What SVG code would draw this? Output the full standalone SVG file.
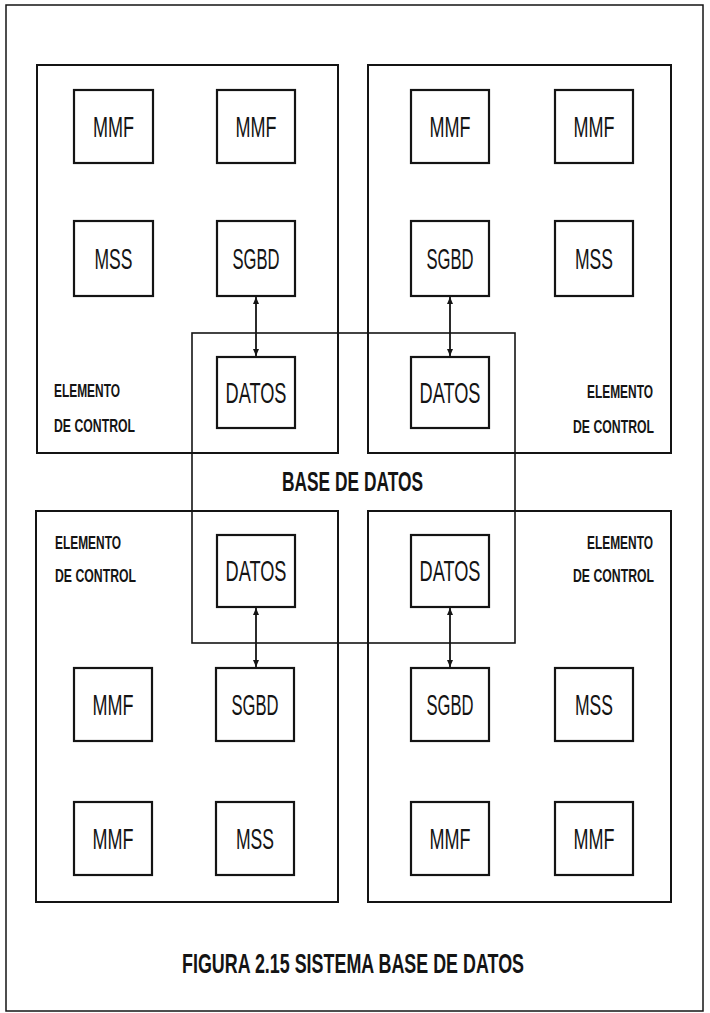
<svg xmlns="http://www.w3.org/2000/svg" width="710" height="1013" viewBox="0 0 710 1013">
<style>
.frame{fill:none;stroke:#141414;stroke-width:1.5}
.ctrl{fill:none;stroke:#141414;stroke-width:2}
.db{fill:none;stroke:#141414;stroke-width:1.6}
.box{fill:none;stroke:#141414;stroke-width:2.2}
.lbl{font-family:"Liberation Sans",Arial,sans-serif;font-size:29px;text-anchor:middle;fill:#141414}
.ec{font-family:"Liberation Sans",Arial,sans-serif;font-size:19px;font-weight:bold;fill:#141414}
.ecr{text-anchor:end}
.cap{font-family:"Liberation Sans",Arial,sans-serif;font-size:28px;font-weight:bold;fill:#141414;text-anchor:middle}
.conn{stroke:#141414;stroke-width:1.8;fill:none}
</style>
<defs>
<marker id="ah" markerUnits="userSpaceOnUse" markerWidth="8" markerHeight="6" refX="7" refY="3" orient="auto-start-reverse">
<path d="M0,0 L7,3 L0,6 z" fill="#141414"/>
</marker>
</defs>
<rect width="710" height="1013" fill="#ffffff"/>
<rect id="frame" class="frame" x="6" y="5" width="697" height="1006"/>

<g id="ctrl-tl">
<rect class="ctrl" x="37" y="65" width="301" height="388"/>
<text class="ec" x="54" y="397" textLength="66" lengthAdjust="spacingAndGlyphs">ELEMENTO</text>
<text class="ec" x="54" y="432" textLength="81" lengthAdjust="spacingAndGlyphs">DE CONTROL</text>
</g>
<g id="ctrl-tr">
<rect class="ctrl" x="368" y="65" width="303" height="388"/>
<text class="ec ecr" x="653" y="398" textLength="66" lengthAdjust="spacingAndGlyphs">ELEMENTO</text>
<text class="ec ecr" x="654" y="433" textLength="81" lengthAdjust="spacingAndGlyphs">DE CONTROL</text>
</g>
<g id="ctrl-bl">
<rect class="ctrl" x="36" y="511" width="302" height="391"/>
<text class="ec" x="55" y="549" textLength="66" lengthAdjust="spacingAndGlyphs">ELEMENTO</text>
<text class="ec" x="55" y="582" textLength="81" lengthAdjust="spacingAndGlyphs">DE CONTROL</text>
</g>
<g id="ctrl-br">
<rect class="ctrl" x="368" y="511" width="303" height="391"/>
<text class="ec ecr" x="653" y="549" textLength="66" lengthAdjust="spacingAndGlyphs">ELEMENTO</text>
<text class="ec ecr" x="654" y="582" textLength="81" lengthAdjust="spacingAndGlyphs">DE CONTROL</text>
</g>

<g id="basedatos">
<rect class="db" x="192" y="333" width="323" height="310"/>
<text class="cap" x="352.5" y="491" textLength="141" lengthAdjust="spacingAndGlyphs">BASE DE DATOS</text>
</g>

<g id="tl-mmf1"><rect class="box" x="74" y="90" width="79" height="73"/><text class="lbl" x="113.5" y="137" textLength="41" lengthAdjust="spacingAndGlyphs">MMF</text></g>
<g id="tl-mmf2"><rect class="box" x="217" y="90" width="78" height="73"/><text class="lbl" x="256" y="137" textLength="41" lengthAdjust="spacingAndGlyphs">MMF</text></g>
<g id="tl-mss"><rect class="box" x="74" y="221" width="79" height="75"/><text class="lbl" x="113.5" y="269" textLength="38" lengthAdjust="spacingAndGlyphs">MSS</text></g>
<g id="tl-sgbd"><rect class="box" x="217" y="221" width="78" height="75"/><text class="lbl" x="256" y="269" textLength="47" lengthAdjust="spacingAndGlyphs">SGBD</text></g>
<g id="tl-datos"><rect class="box" x="217" y="357" width="78" height="71"/><text class="lbl" x="256" y="403" textLength="61" lengthAdjust="spacingAndGlyphs">DATOS</text></g>

<g id="tr-mmf1"><rect class="box" x="411" y="90" width="78" height="73"/><text class="lbl" x="450" y="137" textLength="41" lengthAdjust="spacingAndGlyphs">MMF</text></g>
<g id="tr-mmf2"><rect class="box" x="555" y="90" width="78" height="73"/><text class="lbl" x="594" y="137" textLength="41" lengthAdjust="spacingAndGlyphs">MMF</text></g>
<g id="tr-sgbd"><rect class="box" x="411" y="221" width="78" height="75"/><text class="lbl" x="450" y="269" textLength="47" lengthAdjust="spacingAndGlyphs">SGBD</text></g>
<g id="tr-mss"><rect class="box" x="555" y="221" width="78" height="75"/><text class="lbl" x="594" y="269" textLength="38" lengthAdjust="spacingAndGlyphs">MSS</text></g>
<g id="tr-datos"><rect class="box" x="411" y="357" width="78" height="71"/><text class="lbl" x="450" y="403" textLength="61" lengthAdjust="spacingAndGlyphs">DATOS</text></g>

<g id="bl-datos"><rect class="box" x="217" y="535" width="78" height="72"/><text class="lbl" x="256" y="581" textLength="61" lengthAdjust="spacingAndGlyphs">DATOS</text></g>
<g id="bl-mmf1"><rect class="box" x="74" y="668" width="78" height="73"/><text class="lbl" x="113" y="715" textLength="41" lengthAdjust="spacingAndGlyphs">MMF</text></g>
<g id="bl-sgbd"><rect class="box" x="216" y="668" width="78" height="73"/><text class="lbl" x="255" y="715" textLength="47" lengthAdjust="spacingAndGlyphs">SGBD</text></g>
<g id="bl-mmf2"><rect class="box" x="74" y="802" width="78" height="73"/><text class="lbl" x="113" y="849" textLength="41" lengthAdjust="spacingAndGlyphs">MMF</text></g>
<g id="bl-mss"><rect class="box" x="216" y="802" width="78" height="73"/><text class="lbl" x="255" y="849" textLength="38" lengthAdjust="spacingAndGlyphs">MSS</text></g>

<g id="br-datos"><rect class="box" x="411" y="535" width="78" height="72"/><text class="lbl" x="450" y="581" textLength="61" lengthAdjust="spacingAndGlyphs">DATOS</text></g>
<g id="br-sgbd"><rect class="box" x="411" y="668" width="78" height="73"/><text class="lbl" x="450" y="715" textLength="47" lengthAdjust="spacingAndGlyphs">SGBD</text></g>
<g id="br-mss"><rect class="box" x="555" y="668" width="78" height="73"/><text class="lbl" x="594" y="715" textLength="38" lengthAdjust="spacingAndGlyphs">MSS</text></g>
<g id="br-mmf1"><rect class="box" x="411" y="802" width="78" height="73"/><text class="lbl" x="450" y="849" textLength="41" lengthAdjust="spacingAndGlyphs">MMF</text></g>
<g id="br-mmf2"><rect class="box" x="555" y="802" width="78" height="73"/><text class="lbl" x="594" y="849" textLength="41" lengthAdjust="spacingAndGlyphs">MMF</text></g>

<g id="connectors">
<line class="conn" x1="256" y1="297" x2="256" y2="356" marker-start="url(#ah)" marker-end="url(#ah)"/>
<line class="conn" x1="450" y1="297" x2="450" y2="356" marker-start="url(#ah)" marker-end="url(#ah)"/>
<line class="conn" x1="256" y1="608" x2="256" y2="667" marker-start="url(#ah)" marker-end="url(#ah)"/>
<line class="conn" x1="450" y1="608" x2="450" y2="667" marker-start="url(#ah)" marker-end="url(#ah)"/>
</g>

<text id="caption" class="cap" x="353" y="973" textLength="342" lengthAdjust="spacingAndGlyphs">FIGURA 2.15 SISTEMA BASE DE DATOS</text>
</svg>
